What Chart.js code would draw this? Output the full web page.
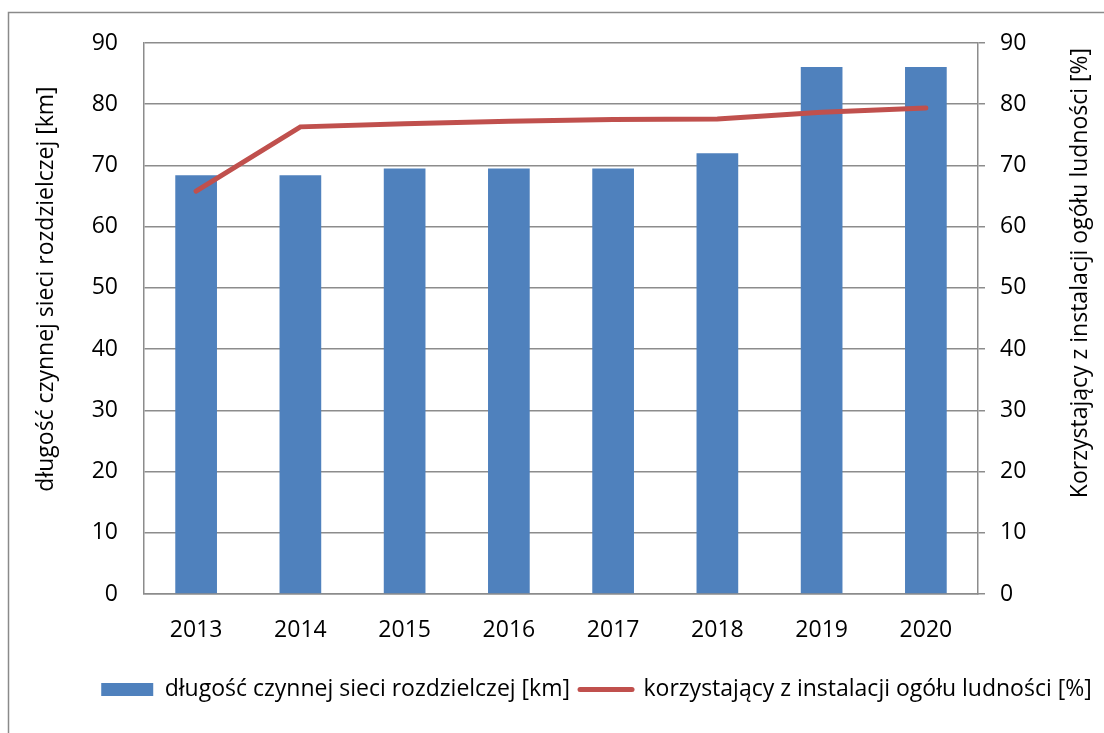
<!DOCTYPE html>
<html>
<head>
<meta charset="utf-8">
<script src="https://cdn.jsdelivr.net/npm/chart.js@4.4.0/dist/chart.umd.min.js"></script>
<style>
  html, body { margin: 0; padding: 0; background: #fff; }
  #chart { display: block; }
</style>
</head>
<body>
<canvas id="chart" width="1104" height="733"></canvas>
<script>
'use strict';
const years = ['2013', '2014', '2015', '2016', '2017', '2018', '2019', '2020'];
const networkKm = [68.4, 68.4, 69.5, 69.5, 69.5, 72.0, 86.1, 86.1];
const usersPct = [65.8, 76.3, 76.8, 77.2, 77.5, 77.6, 78.7, 79.4];
const barLabel = 'długość czynnej sieci rozdzielczej [km]';
const lineLabel = 'korzystający z instalacji ogółu ludności [%]';
const leftTitle = 'długość czynnej sieci rozdzielczej [km]';
const rightTitle = 'Korzystający z instalacji ogółu ludności [%]';

const FONT = "'Open Sans', 'Noto Sans', sans-serif";
const gridGray = '#8c8c8c';

// frame around the whole chart + rotated axis titles
const decor = {
  id: 'decor',
  beforeDraw(chart) {
    const ctx = chart.ctx;
    ctx.save();
    ctx.strokeStyle = '#8a8a8a';
    ctx.lineWidth = 1.5;
    ctx.beginPath();
    ctx.moveTo(8.5, 733);
    ctx.lineTo(8.5, 12.5);
    ctx.lineTo(1104, 12.5);
    ctx.stroke();
    ctx.restore();
  },
  afterDraw(chart) {
    const ctx = chart.ctx;
    ctx.save();
    ctx.fillStyle = '#000';
    ctx.font = `23px ${FONT}`;
    ctx.textAlign = 'center';
    ctx.textBaseline = 'middle';
    ctx.translate(46, 289);
    ctx.rotate(-Math.PI / 2);
    ctx.fillText(leftTitle, 0, 0);
    ctx.restore();

    ctx.save();
    ctx.fillStyle = '#000';
    ctx.font = `23px ${FONT}`;
    ctx.textAlign = 'center';
    ctx.textBaseline = 'middle';
    ctx.translate(1080, 273);
    ctx.rotate(-Math.PI / 2);
    ctx.fillText(rightTitle, 0, 0);
    ctx.restore();
  },
};

const ctx = document.getElementById('chart');
const chart = new Chart(ctx, {
  type: 'bar',
  data: {
    labels: years,
    datasets: [
      {
        type: 'bar',
        label: barLabel,
        data: networkKm,
        backgroundColor: '#4f81bd',
        borderWidth: 0,
        barPercentage: 0.4,
        categoryPercentage: 1,
        yAxisID: 'y',
        order: 2,
      },
      {
        type: 'line',
        label: lineLabel,
        data: usersPct,
        borderColor: '#c0504d',
        backgroundColor: '#c0504d',
        borderWidth: 5,
        borderCapStyle: 'round',
        pointRadius: 0,
        tension: 0,
        yAxisID: 'y1',
        order: 1,
      },
    ],
  },
  options: {
    responsive: false,
    animation: false,
    devicePixelRatio: 1,
    layout: {
      padding: {left: 89, right: 0, top: 43, bottom: 22},
    },
    scales: {
      x: {
        grid: {display: false, drawTicks: false},
        border: {color: gridGray, width: 1.5},
        ticks: {
          color: '#000',
          font: {family: FONT, size: 23},
          padding: 23,
          maxRotation: 0,
        },
        afterFit: (scale) => {
          scale.height = 74;
        },
      },
      y: {
        position: 'left',
        min: 0,
        max: 90,
        ticks: {
          stepSize: 10,
          color: '#000',
          font: {family: FONT, size: 23},
          padding: 26,
        },
        grid: {color: gridGray, lineWidth: 1.5, drawTicks: false},
        border: {color: gridGray, width: 1.5},
        afterFit: (scale) => {
          scale.width = 55;
        },
      },
      y1: {
        position: 'right',
        min: 0,
        max: 90,
        ticks: {
          stepSize: 10,
          color: '#000',
          font: {family: FONT, size: 23},
          padding: 15,
        },
        grid: {
          color: gridGray,
          lineWidth: 1.5,
          drawOnChartArea: false,
          drawTicks: true,
          tickLength: 7,
        },
        border: {color: gridGray, width: 1.5},
        afterFit: (scale) => {
          scale.width = 126;
        },
      },
    },
    plugins: {
      title: {display: false},
      tooltip: {enabled: false},
      legend: {
        display: true,
        position: 'bottom',
        labels: {
          color: '#000',
          font: {family: FONT, size: 23},
          usePointStyle: true,
          pointStyleWidth: 52,
          boxHeight: 13,
          padding: 10,
          sort: (a, b) => a.datasetIndex - b.datasetIndex,
          generateLabels: (chart) => {
            const items = Chart.defaults.plugins.legend.labels.generateLabels(chart);
            items.forEach((item) => {
              if (item.datasetIndex === 0) {
                item.pointStyle = 'rect';
                item.lineWidth = 0;
                item.fillStyle = '#4f81bd';
              } else {
                item.pointStyle = 'line';
                item.lineWidth = 5;
                item.strokeStyle = '#c0504d';
                item.lineCap = 'round';
              }
            });
            return items;
          },
        },
      },
    },
  },
  plugins: [decor],
});
</script>
</body>
</html>
